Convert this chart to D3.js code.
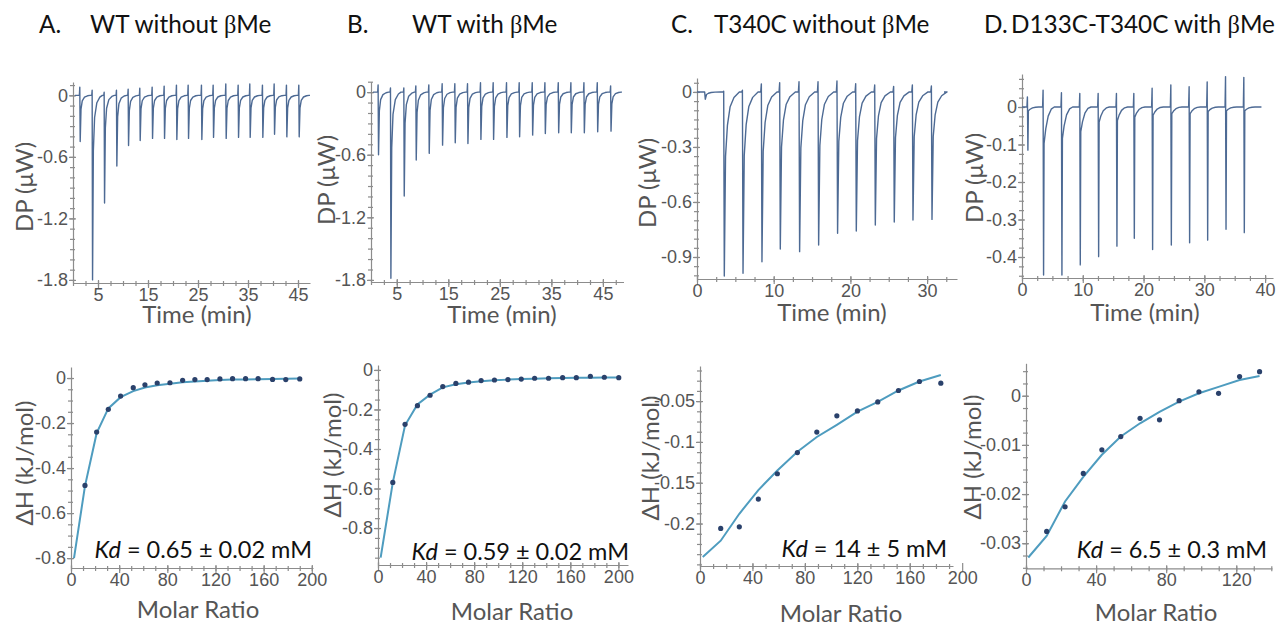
<!DOCTYPE html>
<html>
<head>
<meta charset="utf-8">
<script src="https://cdn.jsdelivr.net/npm/d3@7"></script>
<style>
  body { margin: 0; background: #fff; }
  svg { font-family: Lato, 'Open Sans', sans-serif; }
  .tick text { fill: #555; font-size: 18px; }
  .domain, .tick line { stroke: #8c8c8c; stroke-width: 1.2; }
</style>
</head>
<body>
<svg id="fig" width="1278" height="627"></svg>
<script>
// ---- panel titles ----
var titleLetters = ['A.', 'B.', 'C.', 'D.'];
var titleTexts = ['WT without ', 'WT with ', 'T340C without ', 'D133C-T340C with '];
var kdValues = ['0.65 \u00b1 0.02 mM', '0.59 \u00b1 0.02 mM', '14 \u00b1 5 mM', '6.5 \u00b1 0.3 mM'];

// ---- thermograms (injection time, min / peak depth, µW / spike above baseline) ----
var timeA = [1.4, 3.87, 6.27, 8.73, 11.07, 13.4, 15.87, 18.27, 20.73, 23.07, 25.73, 28.07, 30.6, 33.07, 35.4, 37.93, 40.27, 42.73, 45.2];
var depthA = [-0.45, -1.8, -1.05, -0.69, -0.49, -0.44, -0.42, -0.42, -0.43, -0.42, -0.43, -0.41, -0.42, -0.41, -0.41, -0.41, -0.38, -0.405, -0.405];
var upA = [0.08, 0.05, 0.03, 0.05, 0.06, 0.07, 0.08, 0.09, 0.1, 0.1, 0.1, 0.1, 0.11, 0.1, 0.11, 0.1, 0.11, 0.1, 0.1];

var timeB = [1.42, 3.82, 6.41, 8.74, 11.26, 13.85, 16.31, 18.77, 21.29, 23.75, 26.34, 28.8, 31.33, 33.79, 36.38, 38.83, 41.36, 43.95, 46.54];
var depthB = [-0.6, -1.785, -0.996, -0.651, -0.587, -0.508, -0.485, -0.492, -0.453, -0.453, -0.434, -0.428, -0.412, -0.396, -0.39, -0.39, -0.39, -0.38, -0.374];
var upB = [0.07, 0.04, 0.04, 0.06, 0.07, 0.08, 0.08, 0.08, 0.09, 0.09, 0.09, 0.09, 0.09, 0.09, 0.09, 0.09, 0.09, 0.09, 0.06];

var timeC = [1.04, 3.52, 5.96, 8.43, 10.82, 13.34, 15.82, 18.29, 20.73, 23.21, 25.68, 28.12, 30.6];
var depthC = [-0.04, -1.004, -0.989, -0.926, -0.857, -0.871, -0.835, -0.771, -0.758, -0.726, -0.709, -0.698, -0.695];
var upC = [0, 0.004, 0.01, 0.044, 0.05, 0.056, 0.056, 0.06, 0.045, 0.038, 0.03, 0.038, 0.032];

var timeD = [0.93, 3.51, 6.53, 9.55, 12.57, 15.58, 18.44, 21.45, 24.53, 27.54, 30.51, 33.53, 36.54];
var depthD = [-0.115, -0.448, -0.448, -0.421, -0.399, -0.371, -0.35, -0.38, -0.368, -0.362, -0.355, -0.326, -0.335];
var upD = [0.027, 0.045, 0.038, 0.036, 0.036, 0.036, 0.036, 0.05, 0.059, 0.054, 0.067, 0.081, 0.079];
var tailD = [-0.01, -0.097, -0.084, -0.066, -0.04, -0.036, -0.027, -0.022, -0.018, -0.018, -0.012, -0.01, -0.01];

// ---- binding isotherms (molar ratio / ΔH kJ/mol) ----
var ratioA = [11.6, 21.3, 31, 41.2, 51.7, 61.4, 71.6, 82.2, 92.7, 102.9, 113.1, 123.7, 134.2, 145, 155.4, 167.4, 178.4, 190];
var dhA = [-0.477, -0.24, -0.139, -0.08, -0.043, -0.03, -0.022, -0.021, -0.01, -0.007, -0.007, -0.004, -0.003, -0.003, -0.003, -0.006, -0.007, -0.004];
var fitRatioA = [2.5, 11.6, 21.3, 31, 41.2, 51.7, 61.4, 71.6, 82.2, 92.7, 102.9, 113.1, 123.7, 134.2, 145, 155.4, 167.4, 178.4, 190];
var fitDhA = [-0.8, -0.48, -0.245, -0.135, -0.085, -0.058, -0.042, -0.032, -0.025, -0.019, -0.015, -0.012, -0.009, -0.007, -0.006, -0.005, -0.004, -0.003, -0.002];

var ratioB = [12.3, 22.5, 32.8, 43.3, 53.9, 64.8, 75.3, 85.8, 96.9, 108.1, 119.2, 130.3, 141.9, 153.6, 165, 176.7, 188.3, 200.3];
var dhB = [-0.569, -0.275, -0.181, -0.128, -0.084, -0.068, -0.062, -0.054, -0.051, -0.049, -0.046, -0.042, -0.042, -0.039, -0.039, -0.032, -0.037, -0.039];
var fitRatioB = [2.2, 12.3, 22.5, 32.8, 43.3, 53.9, 64.8, 75.3, 85.8, 96.9, 108.1, 119.2, 130.3, 141.9, 153.6, 165, 176.7, 188.3, 200.3];
var fitDhB = [-0.95, -0.57, -0.28, -0.175, -0.125, -0.088, -0.072, -0.063, -0.057, -0.052, -0.049, -0.046, -0.044, -0.042, -0.041, -0.04, -0.039, -0.038, -0.038];

var ratioC = [15.8, 30, 44.5, 59, 74.3, 89.1, 104.4, 120.1, 135.6, 151.4, 167.4, 183.7];
var dhC = [-0.206, -0.204, -0.17, -0.139, -0.113, -0.088, -0.068, -0.062, -0.051, -0.037, -0.026, -0.028];
var fitRatioC = [2.1, 15.8, 30, 44.5, 59, 74.3, 89.1, 104.4, 120.1, 135.6, 151.4, 167.4, 183.7];
var fitDhC = [-0.241, -0.221, -0.188, -0.159, -0.135, -0.112, -0.094, -0.079, -0.063, -0.051, -0.037, -0.026, -0.018];

var ratioD = [11.8, 22.3, 32.7, 43.3, 54.1, 65.1, 76.2, 87.4, 98.7, 109.9, 121.9, 133.3];
var dhD = [-0.0276, -0.0226, -0.0158, -0.011, -0.0083, -0.0046, -0.0049, -0.001, 0.0008, 0.0005, 0.0039, 0.0049];
var fitRatioD = [1.3, 11.8, 22.3, 32.7, 43.3, 54.1, 65.1, 76.2, 87.4, 98.7, 109.9, 121.9, 133.3];
var fitDhD = [-0.0329, -0.0285, -0.0215, -0.0165, -0.012, -0.0083, -0.0056, -0.0033, -0.0012, 0.0005, 0.0018, 0.0032, 0.004];

// ---- tick labels ----
var topTicksAB = [5, 15, 25, 35, 45];
var topTicksC = [0, 10, 20, 30];
var topTicksD = [0, 10, 20, 30, 40];
var dpTicksAB = [0, -0.6, -1.2, -1.8];
var dpTicksC = [0, -0.3, -0.6, -0.9];
var dpTicksD = [0, -0.1, -0.2, -0.3, -0.4];
var ratioTicks = [0, 40, 80, 120, 160, 200];
var ratioTicksD = [0, 40, 80, 120];
var dhTicksAB = [0, -0.2, -0.4, -0.6, -0.8];
var dhTicksC = [-0.05, -0.1, -0.15, -0.2];
var dhTicksD = [0, -0.01, -0.02, -0.03];

var svg = d3.select('#fig');
var traceColor = '#4d6a94';
var fitColor = '#4e9cbf';
var dotColor = '#2a416b';

function minorTicks(lo, hi, step) {
  var out = [];
  for (var v = Math.ceil(lo / step - 1e-6); v * step <= hi + 1e-9; v++) out.push(v * step);
  return out;
}

function drawAxes(p, x, y) {
  var yb = y.range()[0];
  var xl = x.range()[0];
  var xd = x.domain(), yd = y.domain();

  var gx = svg.append('g').attr('transform', 'translate(0,' + yb + ')');
  gx.call(d3.axisBottom(x).tickValues(minorTicks(xd[0], xd[1], p.xMinor)).tickSize(3).tickSizeOuter(0).tickFormat(''));
  gx.selectAll('.tick line').attr('y1', -2);
  var gx2 = svg.append('g').attr('transform', 'translate(0,' + yb + ')');
  gx2.call(d3.axisBottom(x).tickValues(p.xTicks).tickSize(5).tickSizeOuter(0).tickPadding(0).tickFormat(d3.format('d')));
  gx2.select('.domain').remove();
  gx2.selectAll('.tick line').attr('y1', -3);

  var gy = svg.append('g').attr('transform', 'translate(' + xl + ',0)');
  gy.call(d3.axisLeft(y).tickValues(minorTicks(yd[0], yd[1], p.yMinor)).tickSize(3).tickSizeOuter(0).tickFormat(''));
  gy.selectAll('.tick line').attr('x1', 2);
  var gy2 = svg.append('g').attr('transform', 'translate(' + xl + ',0)');
  gy2.call(d3.axisLeft(y).tickValues(p.yTicks).tickSize(4).tickSizeOuter(0).tickPadding(1)
    .tickFormat(function(d) { return d === 0 ? '0' : String(d); }));
  gy2.select('.domain').remove();
  gy2.selectAll('.tick line').attr('x1', 3);
}

function axisTitles(p) {
  svg.append('text')
    .attr('x', p.xLabelX).attr('y', p.xLabelY)
    .attr('text-anchor', 'middle').attr('fill', '#555').attr('font-size', 24)
    .text(p.xLabel);
  svg.append('text')
    .attr('transform', 'translate(' + p.yLabelX + ',' + p.yLabelY + ') rotate(-90)')
    .attr('text-anchor', 'middle').attr('dy', '0.35em').attr('fill', '#555').attr('font-size', 24)
    .text(p.yLabel);
}

function buildTrace(times, depths, ups, tails, shape, t0, t1) {
  var pts = [[t0, 0]];
  times.forEach(function(t, i) {
    var ref = tails ? tails[i] : depths[i];
    pts.push([t - 0.12, 0], [t - 0.04, ups[i]], [t + 0.04, depths[i]]);
    shape.forEach(function(s) { pts.push([t + s[0], s[1] * ref]); });
  });
  pts.push([t1, 0]);
  return pts;
}

var shapeAB = [[0.2, 0.3], [0.45, 0.12], [0.9, 0.04], [1.5, 0.01], [2.0, 0]];
var shapeC = [[0.2, 0.35], [0.45, 0.18], [0.8, 0.08], [1.3, 0.03], [2.0, 0]];
var shapeD = [[0.12, 1], [0.4, 0.6], [0.8, 0.25], [1.3, 0.06], [1.8, 0]];

var topPanels = [
  {times: timeA, depths: depthA, ups: upA, tails: null, shape: shapeAB, t0: 0.4, t1: 47.4,
   xDom: [0, 47.4], xRng: [73, 310], yDom: [-1.83, 0.13], yRng: [283, 82],
   xTicks: topTicksAB, xMinor: 2.5, yTicks: dpTicksAB, yMinor: 0.1,
   xLabelX: 197, xLabelY: 323, yLabelX: 25, yLabelY: 187},
  {times: timeB, depths: depthB, ups: upB, tails: null, shape: shapeAB, t0: 0.4, t1: 48.7,
   xDom: [0, 49], xRng: [371, 623.5], yDom: [-1.82, 0.1], yRng: [282, 81.7],
   xTicks: topTicksAB, xMinor: 2.5, yTicks: dpTicksAB, yMinor: 0.1,
   xLabelX: 502, xLabelY: 323, yLabelX: 327, yLabelY: 180},
  {times: timeC, depths: depthC, ups: upC, tails: null, shape: shapeC, t0: 0, t1: 32.2,
   xDom: [0, 33.9], xRng: [697, 957], yDom: [-1.02, 0.076], yRng: [279, 78],
   xTicks: topTicksC, xMinor: 2.5, yTicks: dpTicksC, yMinor: 0.05,
   xLabelX: 832, xLabelY: 321, yLabelX: 648, yLabelY: 183},
  {times: timeD, depths: depthD, ups: upD, tails: tailD, shape: shapeD, t0: 0, t1: 39.4,
   xDom: [0, 41.3], xRng: [1022, 1273], yDom: [-0.456, 0.088], yRng: [278, 74],
   xTicks: topTicksD, xMinor: 2.5, yTicks: dpTicksD, yMinor: 0.025,
   xLabelX: 1145, xLabelY: 321, yLabelX: 975, yLabelY: 178}
];

topPanels.forEach(function(p) {
  var x = d3.scaleLinear().domain(p.xDom).range(p.xRng);
  var y = d3.scaleLinear().domain(p.yDom).range(p.yRng);
  drawAxes(p, x, y);
  var pts = buildTrace(p.times, p.depths, p.ups, p.tails, p.shape, p.t0, p.t1);
  svg.append('path')
    .datum(pts)
    .attr('fill', 'none')
    .attr('stroke', traceColor)
    .attr('stroke-width', 1.4)
    .attr('stroke-linejoin', 'round')
    .attr('d', d3.line().x(function(d) { return x(d[0]); }).y(function(d) { return y(d[1]); }));
  p.xLabel = 'Time (min)';
  p.yLabel = 'DP (\u03bcW)';
  axisTitles(p);
});

var bottomPanels = [
  {rx: ratioA, ry: dhA, fx: fitRatioA, fy: fitDhA,
   xDom: [0, 201], xRng: [71, 313], yDom: [-0.844, 0.049], yRng: [568, 367],
   xTicks: ratioTicks, xMinor: 10, yTicks: dhTicksAB, yMinor: 0.05,
   xLabelX: 198, xLabelY: 618, yLabelX: 25, yLabelY: 463, kdX: 312, kdY: 558},
  {rx: ratioB, ry: dhB, fx: fitRatioB, fy: fitDhB,
   xDom: [0, 208], xRng: [378, 628], yDom: [-0.987, 0.025], yRng: [565, 365],
   xTicks: ratioTicks, xMinor: 10, yTicks: dhTicksAB, yMinor: 0.05,
   xLabelX: 512, xLabelY: 620, yLabelX: 333, yLabelY: 455, kdX: 629, kdY: 560},
  {rx: ratioC, ry: dhC, fx: fitRatioC, fy: fitDhC,
   xDom: [0, 193], xRng: [700, 953], yDom: [-0.252, -0.007], yRng: [566, 366],
   xTicks: ratioTicks, xMinor: 10, yTicks: dhTicksC, yMinor: 0.0125,
   xLabelX: 841, xLabelY: 622, yLabelX: 651, yLabelY: 458, kdX: 947, kdY: 557},
  {rx: ratioD, ry: dhD, fx: fitRatioD, fy: fitDhD,
   xDom: [0, 140.4], xRng: [1026, 1272], yDom: [-0.0351, 0.0066], yRng: [568.3, 363.3],
   xTicks: ratioTicksD, xMinor: 10, yTicks: dhTicksD, yMinor: 0.0025,
   xLabelX: 1156, xLabelY: 621, yLabelX: 973, yLabelY: 457, kdX: 1267, kdY: 558}
];

bottomPanels.forEach(function(p, i) {
  var x = d3.scaleLinear().domain(p.xDom).range(p.xRng);
  var y = d3.scaleLinear().domain(p.yDom).range(p.yRng);
  drawAxes(p, x, y);
  var fit = p.fx.map(function(v, j) { return [v, p.fy[j]]; });
  svg.append('path')
    .datum(fit)
    .attr('fill', 'none')
    .attr('stroke', fitColor)
    .attr('stroke-width', 2)
    .attr('d', d3.line().x(function(d) { return x(d[0]); }).y(function(d) { return y(d[1]); }));
  svg.selectAll('.dot' + i)
    .data(p.rx)
    .enter().append('circle')
    .attr('cx', function(d) { return x(d); })
    .attr('cy', function(d, j) { return y(p.ry[j]); })
    .attr('r', 2.6)
    .attr('fill', dotColor);
  p.xLabel = 'Molar Ratio';
  p.yLabel = '\u0394H (kJ/mol)';
  axisTitles(p);
  var kd = svg.append('text')
    .attr('x', p.kdX).attr('y', p.kdY)
    .attr('text-anchor', 'end').attr('font-size', 23.5).attr('fill', '#111');
  kd.append('tspan').attr('font-style', 'italic').text('Kd');
  kd.append('tspan').text(' = ' + kdValues[i]);
});

// ---- titles ----
var letterX = [39, 347, 671, 984];
var textX = [90, 412, 714, 1011];
titleLetters.forEach(function(l, i) {
  svg.append('text').attr('x', letterX[i]).attr('y', 33).attr('font-size', 24.3).attr('fill', '#111').text(l);
  var t = svg.append('text').attr('x', textX[i]).attr('y', 33).attr('font-size', 24.3).attr('fill', '#111');
  t.append('tspan').text(titleTexts[i]);
  t.append('tspan').attr('font-family', "'Liberation Serif', 'DejaVu Serif', serif").text('\u03b2');
  t.append('tspan').text('Me');
});
</script>
</body>
</html>
